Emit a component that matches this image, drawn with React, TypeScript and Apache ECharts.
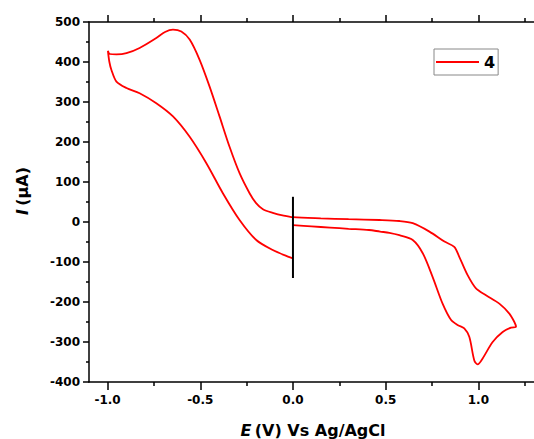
import React, { useEffect, useRef } from "react";
import * as echarts from "echarts";

// Potential (V) along the scan, in drawing order
const scanE = [
  0.0, 0.1, 0.2, 0.3, 0.41, 0.47, 0.52, 0.574, 0.646, 0.7, 0.753, 0.807, 0.853, 0.89, 0.924, 0.951,
  0.978, 0.996, 1.023, 1.077, 1.131, 1.176, 1.203,
  1.194, 1.167, 1.113, 1.041, 0.987, 0.942, 0.897, 0.87, 0.817, 0.736, 0.646, 0.574, 0.466, 0.3, 0.15,
  0.0,
  -0.05, -0.109, -0.162, -0.2, -0.234, -0.288, -0.342, -0.396, -0.45, -0.504, -0.557, -0.602, -0.647,
  -0.69, -0.737, -0.827, -0.898, -0.952, -0.988, -0.998,
  -0.99, -0.979, -0.952, -0.898, -0.827, -0.737, -0.647, -0.557, -0.467, -0.378, -0.288, -0.198,
  -0.109, -0.019, 0.0,
];
// Current (µA) along the scan
const scanI = [
  -8, -11, -14, -17, -20, -24, -27, -33, -45, -78, -137, -204, -245, -258, -266, -287,
  -346, -356, -341, -300, -275, -264, -262,
  -250, -229, -204, -183, -166, -133, -87, -62, -49, -24, -3, 2.5, 5, 7, 9,
  12,
  16, 23, 32, 48, 72, 122, 188, 264, 339, 406, 456, 476, 481,
  475, 460, 435, 422, 419, 420, 428,
  400, 380, 351, 335, 322, 297, 264, 213, 147, 72, 5, -45,
  -70, -88, -91,
];
// Black vertical marker at 0 V
const markerE = [0, 0];
const markerI = [63, -140];

const xMajorTicks = [-1.0, -0.5, 0.0, 0.5, 1.0];
const xMinorTicks = [-0.75, -0.25, 0.25, 0.75, 1.25];
const seriesName = "4";

export default function App() {
  const ref = useRef<HTMLDivElement>(null);
  useEffect(() => {
    if (!ref.current) return;
    const chart = echarts.init(ref.current, null, { renderer: "svg" });
    const fontFamily = "'DejaVu Sans', sans-serif";
    const lineStyle = { color: "#000", width: 1.5 };
    const baseX = {
      type: "value",
      min: -1.1,
      max: 1.3,
      splitLine: { show: false },
      minorTick: { show: false },
    };
    const labelStyle = {
      fontFamily,
      fontWeight: "bold",
      fontSize: 12,
      color: "#000",
    };
    chart.setOption({
      animation: false,
      backgroundColor: "#ffffff",
      grid: { left: 89, top: 22, right: 0, bottom: 57 },
      legend: {
        left: 434,
        top: 49,
        data: [seriesName],
        icon: "rect",
        itemWidth: 43,
        itemHeight: 2,
        padding: [5, 3, 5, 2],
        borderColor: "#888",
        borderWidth: 1,
        backgroundColor: "#fff",
        textStyle: { fontFamily, fontWeight: "bold", fontSize: 16, color: "#000" },
      },
      xAxis: [
        {
          ...baseX,
          position: "bottom",
          axisLine: { show: true, onZero: false, lineStyle },
          axisTick: { show: true, inside: false, length: 8, customValues: xMajorTicks, lineStyle },
          axisLabel: {
            show: true,
            customValues: xMajorTicks,
            formatter: (v: number) => v.toFixed(1),
            margin: 12,
            ...labelStyle,
          },
        },
        {
          ...baseX,
          position: "bottom",
          axisLine: { show: false, onZero: false },
          axisTick: { show: true, inside: false, length: 4, customValues: xMinorTicks, lineStyle },
          axisLabel: { show: false },
        },
        {
          ...baseX,
          position: "top",
          axisLine: { show: true, onZero: false, lineStyle },
          axisTick: { show: true, inside: false, length: 7, customValues: xMajorTicks, lineStyle },
          axisLabel: { show: false },
        },
        {
          ...baseX,
          position: "top",
          axisLine: { show: false, onZero: false },
          axisTick: { show: true, inside: false, length: 4, customValues: xMinorTicks, lineStyle },
          axisLabel: { show: false },
        },
      ],
      yAxis: {
        type: "value",
        min: -400,
        max: 500,
        interval: 100,
        position: "left",
        splitLine: { show: false },
        axisLine: { show: true, onZero: false, lineStyle },
        axisTick: { show: true, inside: false, length: 6, lineStyle },
        minorTick: { show: true, splitNumber: 2, length: 3, lineStyle },
        axisLabel: { margin: 9, ...labelStyle },
      },
      graphic: [
        {
          type: "text",
          x: 22,
          y: 191,
          rotation: Math.PI / 2,
          style: {
            text: "{i|I} {n|(μA)}",
            align: "center",
            verticalAlign: "middle",
            textAlign: "center",
            textVerticalAlign: "middle",
            fill: "#000",
            rich: {
              i: { fontFamily, fontWeight: "bold", fontStyle: "italic", fontSize: 16, fill: "#000" },
              n: { fontFamily, fontWeight: "bold", fontSize: 16, fill: "#000" },
            },
          },
        },
        {
          type: "text",
          x: 313,
          y: 430,
          style: {
            text: "{i|E} {n|(V) Vs Ag/AgCl}",
            align: "center",
            verticalAlign: "middle",
            textAlign: "center",
            textVerticalAlign: "middle",
            fill: "#000",
            rich: {
              i: { fontFamily, fontWeight: "bold", fontStyle: "italic", fontSize: 16, fill: "#000" },
              n: { fontFamily, fontWeight: "bold", fontSize: 16, fill: "#000" },
            },
          },
        },
      ],
      series: [
        {
          name: seriesName,
          type: "line",
          xAxisIndex: 0,
          yAxisIndex: 0,
          data: scanE.map((e, i) => [e, scanI[i]]),
          symbol: "none",
          smooth: 0.3,
          lineStyle: { color: "#ff0000", width: 1.8 },
          itemStyle: { color: "#ff0000" },
        },
        {
          name: "marker",
          type: "line",
          xAxisIndex: 0,
          yAxisIndex: 0,
          data: markerE.map((e, i) => [e, markerI[i]]),
          symbol: "none",
          lineStyle: { color: "#000", width: 2 },
        },
      ],
    });
    return () => chart.dispose();
  }, []);
  return (
    <div
      ref={ref}
      style={{ position: "fixed", left: 0, top: 0, width: 534, height: 439, background: "#fff" }}
    />
  );
}
